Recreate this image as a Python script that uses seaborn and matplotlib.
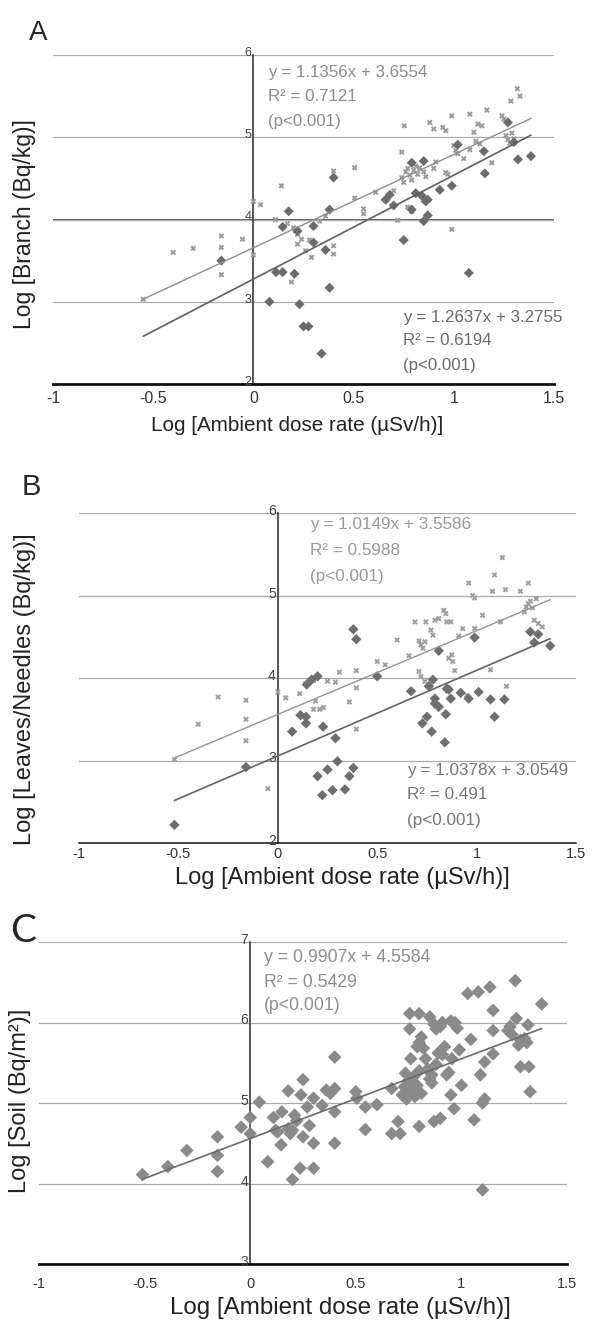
import numpy as np
import pandas as pd
import seaborn as sns
import matplotlib.pyplot as plt
from matplotlib.ticker import MultipleLocator
from matplotlib.transforms import offset_copy

# ---- valores (log10) ----
# Panel A: rama, serie de rombos (oscura) y serie de asteriscos (clara)
a_dia_x = [-0.16, 0.08, 0.113, 0.146, 0.146, 0.176, 0.205, 0.23, 0.25, 0.275, 0.22, 0.30, 0.30,
           0.36, 0.38, 0.38, 0.34, 0.40, 0.68, 0.70, 0.75, 0.79, 0.81, 0.85, 0.85, 0.87, 0.87,
           0.93, 0.99, 1.02, 1.075, 1.15, 1.155, 1.27, 1.30, 1.32, 1.385, 0.79, 0.84, 0.86, 0.66]
a_dia_y = [3.50, 3.00, 3.36, 3.36, 3.91, 4.10, 3.34, 2.97, 2.70, 2.70, 3.86, 3.92, 3.72,
           3.63, 4.12, 3.17, 2.37, 4.51, 4.30, 4.17, 3.75, 4.12, 4.32, 4.71, 3.98, 4.05, 4.24,
           4.36, 4.41, 4.91, 3.35, 4.83, 4.56, 5.18, 4.94, 4.73, 4.77, 4.69, 4.29, 4.22, 4.24]
a_ast_x = [-0.55, -0.40, -0.30, -0.16, -0.16, -0.16, -0.055, 0.00, 0.00, 0.036, 0.11, 0.14, 0.19,
           0.17, 0.20, 0.21, 0.22, 0.24, 0.22, 0.26, 0.29, 0.28, 0.33, 0.36, 0.40, 0.40, 0.40,
           0.505, 0.505, 0.55, 0.55, 0.61, 0.67, 0.70, 0.72, 0.74, 0.753, 0.74, 0.75, 0.76, 0.77,
           0.78, 0.79, 0.80, 0.81, 0.82, 0.83, 0.77, 0.79, 0.85, 0.86, 0.88, 0.90, 0.90, 0.91,
           0.945, 0.96, 0.96, 0.97, 0.99, 0.99, 1.00, 1.01, 1.02, 1.05, 1.08, 1.10, 1.11, 1.12,
           1.13, 1.14, 1.165, 1.19, 1.24, 1.25, 1.26, 1.27, 1.28, 1.29, 1.30, 1.285, 1.317, 1.33, 1.08]
a_ast_y = [3.03, 3.60, 3.65, 3.80, 3.66, 3.33, 3.76, 3.57, 4.22, 4.18, 4.00, 4.41, 3.24,
           3.95, 3.90, 3.86, 3.82, 3.76, 3.70, 3.62, 3.54, 3.75, 3.98, 4.04, 4.59, 3.68, 3.58,
           4.63, 4.26, 4.13, 4.07, 4.33, 4.28, 4.35, 3.99, 4.82, 5.14, 4.51, 4.45, 4.58, 4.62,
           4.54, 4.48, 4.60, 4.65, 4.55, 4.63, 4.15, 4.10, 4.58, 4.52, 5.18, 5.10, 4.62, 4.70,
           5.12, 5.08, 4.57, 4.55, 5.26, 3.88, 4.90, 4.84, 4.80, 4.74, 5.28, 5.06, 4.95, 5.16,
           4.92, 5.14, 5.33, 4.69, 5.26, 5.22, 5.02, 4.97, 4.93, 5.05, 4.98, 5.44, 5.59, 5.50, 4.85]

# Panel B: hojas / aciculas
b_dia_x = [-0.52, -0.16, 0.072, 0.114, 0.142, 0.142, 0.146, 0.17, 0.20, 0.20, 0.224, 0.25, 0.275,
           0.228, 0.29, 0.30, 0.338, 0.36, 0.38, 0.38, 0.395, 0.50, 0.67, 0.727, 0.75, 0.774, 0.78,
           0.79, 0.79, 0.81, 0.84, 0.845, 0.85, 0.87, 0.86, 0.81, 0.92, 0.96, 0.99, 1.01, 1.07,
           1.09, 1.14, 1.27, 1.31, 1.29, 1.37, 0.76]
b_dia_y = [2.22, 2.92, 3.35, 3.55, 3.53, 3.45, 3.92, 3.98, 4.02, 2.81, 2.58, 2.89, 2.64,
           3.41, 3.27, 2.99, 2.65, 2.81, 2.91, 4.59, 4.47, 4.02, 3.84, 3.45, 3.53, 3.35, 3.98,
           3.75, 3.69, 3.65, 3.22, 3.56, 3.87, 3.75, 3.86, 4.33, 3.82, 3.75, 4.49, 3.83, 3.74,
           3.53, 3.74, 4.56, 4.53, 4.43, 4.39, 3.90]
b_ast_x = [-0.52, -0.40, -0.30, -0.16, -0.16, -0.16, -0.05, 0.00, 0.04, 0.11, 0.14, 0.18, 0.19,
           0.21, 0.23, 0.18, 0.25, 0.29, 0.31, 0.29, 0.36, 0.395, 0.395, 0.395, 0.50, 0.54, 0.60,
           0.66, 0.69, 0.71, 0.72, 0.73, 0.74, 0.71, 0.72, 0.74, 0.745, 0.77, 0.78, 0.79, 0.81,
           0.835, 0.845, 0.85, 0.87, 0.86, 0.875, 0.88, 0.89, 0.91, 0.93, 0.95, 0.96, 0.98, 0.99,
           0.99, 1.03, 1.07, 1.08, 1.09, 1.12, 1.13, 1.145, 1.15, 1.22, 1.24, 1.25, 1.26, 1.27,
           1.28, 1.26, 1.29, 1.30, 1.31, 1.33]
b_ast_y = [3.01, 3.44, 3.77, 3.73, 3.50, 3.24, 2.66, 3.83, 3.76, 3.81, 3.93, 3.97, 3.72,
           3.62, 3.64, 3.62, 3.96, 3.95, 4.07, 3.27, 3.71, 4.09, 3.88, 3.38, 4.20, 4.16, 4.46,
           4.27, 4.68, 4.45, 4.40, 4.36, 4.44, 4.08, 4.02, 3.96, 4.68, 4.58, 4.52, 4.70, 4.72,
           4.82, 4.78, 4.68, 4.68, 4.24, 4.28, 4.20, 4.09, 4.51, 4.60, 3.79, 5.15, 5.00, 4.97,
           4.60, 4.76, 4.10, 5.05, 5.25, 4.68, 5.46, 5.07, 3.90, 5.05, 4.80, 4.86, 4.90, 4.93,
           4.85, 5.15, 4.70, 4.96, 4.66, 4.62]

# Panel C: suelo
c_x = [-0.51, -0.39, -0.30, -0.155, -0.155, -0.155, -0.043, 0.0, 0.0, 0.043, 0.083, 0.11, 0.12,
       0.13, 0.146, 0.15, 0.18, 0.18, 0.19, 0.20, 0.20, 0.21, 0.22, 0.236, 0.24, 0.25, 0.25,
       0.27, 0.28, 0.30, 0.30, 0.30, 0.34, 0.36, 0.38, 0.40, 0.40, 0.40, 0.40, 0.50, 0.505,
       0.545, 0.545, 0.60, 0.67, 0.67, 0.70, 0.71, 0.735, 0.72, 0.73, 0.74, 0.75, 0.76, 0.77,
       0.78, 0.79, 0.80, 0.81, 0.755, 0.755, 0.80, 0.79, 0.80, 0.81, 0.80, 0.76, 0.84, 0.85,
       0.86, 0.85, 0.87, 0.88, 0.90, 0.91, 0.87, 0.90, 0.91, 0.93, 0.94, 0.95, 0.97, 0.98,
       0.955, 0.965, 0.95, 0.99, 1.00, 1.045, 1.06, 1.03, 1.08, 1.09, 1.10, 1.11, 1.11, 1.10,
       1.135, 1.15, 1.15, 1.15, 1.22, 1.23, 1.24, 1.255, 1.26, 1.27, 1.28, 1.30, 1.31, 1.28,
       1.32, 1.325, 1.315, 1.38, 0.88, 0.89, 0.92, 0.86, 0.83, 0.82]
c_y = [4.11, 4.21, 4.41, 4.58, 4.35, 4.15, 4.70, 4.82, 4.62, 5.01, 4.27, 4.82, 4.66,
       4.64, 4.48, 4.89, 5.15, 4.68, 4.62, 4.66, 4.05, 4.85, 4.78, 4.19, 5.10, 5.29, 4.58,
       4.95, 4.72, 5.06, 4.50, 4.19, 4.97, 5.16, 5.12, 5.57, 5.18, 4.89, 4.50, 5.14, 5.06,
       4.95, 4.67, 4.98, 5.18, 4.62, 4.77, 4.62, 5.37, 5.10, 5.20, 5.05, 5.28, 5.15, 5.32,
       5.08, 5.22, 5.40, 5.12, 6.11, 5.92, 6.11, 5.70, 5.75, 5.82, 4.71, 5.55, 5.42, 5.30,
       5.35, 6.07, 5.98, 5.92, 5.95, 6.00, 4.77, 4.81, 5.60, 5.35, 5.38, 6.02, 6.00, 5.93,
       5.55, 4.93, 5.10, 5.66, 5.22, 5.79, 4.79, 6.36, 6.38, 5.35, 3.92, 5.51, 5.05, 5.00,
       6.44, 6.15, 5.90, 5.61, 5.90, 5.95, 5.85, 6.52, 6.05, 5.72, 5.78, 5.80, 5.75, 5.45,
       5.45, 5.14, 5.97, 6.23, 5.48, 5.62, 5.70, 5.25, 5.55, 5.68]

# ecuaciones de las rectas de tendencia (pendiente, ordenada)
a_fit_ast = (1.1356, 3.6554)
a_fit_dia = (1.2637, 3.2755)
b_fit_ast = (1.0149, 3.5586)
b_fit_dia = (1.0378, 3.0549)
c_fit = (0.9907, 4.5584)

a_txt_ast = ["y = 1.1356x + 3.6554", "R² = 0.7121", "(p<0.001)"]
a_txt_dia = ["y = 1.2637x + 3.2755", "R² = 0.6194", "(p<0.001)"]
b_txt_ast = ["y = 1.0149x + 3.5586", "R² = 0.5988", "(p<0.001)"]
b_txt_dia = ["y = 1.0378x + 3.0549", "R² = 0.491", "(p<0.001)"]
c_txt = ["y = 0.9907x + 4.5584", "R² = 0.5429", "(p<0.001)"]

x_ticks = [-1, -0.5, 0, 0.5, 1, 1.5]
x_tick_labels = ["-1", "-0.5", "0", "0.5", "1", "1.5"]
x_title = "Log [Ambient dose rate (µSv/h)]"

sns.set_theme(style="white")
plt.rcParams['font.family'] = ['Liberation Sans', 'DejaVu Sans']
plt.rcParams['axes.unicode_minus'] = False

W, H = 596, 1327
fig = plt.figure(figsize=(W / 100, H / 100), dpi=100)
fig.patch.set_facecolor("white")


def ejes_px(x0, y0, x1, y1):
    # crea un eje a partir de coordenadas en pixeles (origen arriba a la izquierda)
    return fig.add_axes([x0 / W, 1 - y1 / H, (x1 - x0) / W, (y1 - y0) / H])


def estilo(ax, ymin, ymax, spine_lw, xfs, yfs, pad):
    ax.set_xlim(-1, 1.5)
    ax.set_ylim(ymin, ymax)
    ax.set_xticks(x_ticks)
    ax.set_xticklabels(x_tick_labels)
    ax.set_yticks(range(ymin, ymax + 1))
    ax.set_yticklabels([])
    ax.yaxis.set_minor_locator(MultipleLocator(0.5))
    ax.spines['top'].set_visible(False)
    ax.spines['right'].set_visible(False)
    ax.spines['left'].set_position(('data', 0))
    ax.spines['left'].set_color('#3a3a3a')
    ax.spines['left'].set_linewidth(1.2)
    ax.spines['bottom'].set_color('#111111')
    ax.spines['bottom'].set_linewidth(spine_lw)
    ax.grid(axis='y', color='#ababab', lw=0.9)
    ax.set_axisbelow(True)
    ax.tick_params(axis='x', length=0, labelsize=xfs, labelcolor='#333333', pad=pad)
    ax.tick_params(axis='y', which='major', length=0)
    ax.tick_params(axis='y', which='minor', length=3, width=0.8, color='#555555', direction='out')
    ax.set_xlabel("")
    ax.set_ylabel("")
    # etiquetas del eje y pegadas al eje x=0, un poco por encima de la linea
    tr = offset_copy(ax.transData, fig=fig, x=-2, y=2, units='dots')
    for k in range(ymin, ymax + 1):
        ax.text(0, k, str(k), transform=tr, ha='right', va='center',
                fontsize=yfs, color='#444444')


def tendencia(ax, fit, xs_all, color, lw):
    xs = np.array([min(xs_all), max(xs_all)])
    ax.plot(xs, fit[0] * xs + fit[1], color=color, lw=lw, zorder=4)


def texto(ax, x, ys, lineas, color, fs):
    for y, t in zip(ys, lineas):
        ax.text(x, y, t, color=color, fontsize=fs, ha='left', va='center', zorder=5)


# ---------------- Panel A ----------------
ax = ejes_px(53, 55, 554, 384)
estilo(ax, 2, 6, 2.0, 11.5, 9, 5)
ax.axhline(4, color='#333333', lw=1.1, zorder=0.5)
sns.scatterplot(x=a_ast_x, y=a_ast_y, marker='X', s=17, color='#9a9a9a', edgecolor='none', ax=ax, zorder=3)
sns.scatterplot(x=a_dia_x, y=a_dia_y, marker='D', s=26, color='#6b6b6b', edgecolor='none', ax=ax, zorder=3)
todos = a_ast_x + a_dia_x
tendencia(ax, a_fit_ast, todos, '#8e8e8e', 1.0)
tendencia(ax, a_fit_dia, todos, '#606060', 1.2)
texto(ax, 0.075, [5.79, 5.49, 5.19], a_txt_ast, '#8c8c8c', 12.2)
texto(ax, 0.745, [2.81, 2.53, 2.23], a_txt_dia, '#6a6a6a', 12.2)

fig.text(29 / W, 1 - 33 / H, "A", fontsize=20, ha='left', va='center')
fig.text(25 / W, 1 - 224 / H, "Log [Branch (Bq/kg)]", fontsize=16.5, rotation=90, ha='center', va='center', color='#222222')
fig.text(297 / W, 1 - 425 / H, x_title, fontsize=14.9, ha='center', va='center', color='#222222')

# ---------------- Panel B ----------------
ax = ejes_px(79, 513, 576, 843)
estilo(ax, 2, 6, 1.1, 10.5, 10, 3)
sns.scatterplot(x=b_ast_x, y=b_ast_y, marker='X', s=17, color='#9e9e9e', edgecolor='none', ax=ax, zorder=3)
sns.scatterplot(x=b_dia_x, y=b_dia_y, marker='D', s=28, color='#6e6e6e', edgecolor='none', ax=ax, zorder=3)
todos = b_ast_x + b_dia_x
tendencia(ax, b_fit_ast, todos, '#949494', 1.0)
tendencia(ax, b_fit_dia, todos, '#646464', 1.2)
texto(ax, 0.16, [5.86, 5.54, 5.23], b_txt_ast, '#999999', 12.3)
texto(ax, 0.65, [2.88, 2.59, 2.27], b_txt_dia, '#777777', 12.3)

fig.text(22 / W, 1 - 487 / H, "B", fontsize=21, ha='left', va='center')
fig.text(25 / W, 1 - 689 / H, "Log [Leaves/Needles (Bq/kg)]", fontsize=17, rotation=90, ha='center', va='center', color='#222222')
fig.text(342 / W, 1 - 878 / H, x_title, fontsize=17, ha='center', va='center', color='#222222')

# ---------------- Panel C ----------------
ax = ejes_px(39, 942, 567, 1264)
estilo(ax, 3, 7, 2.0, 10.5, 10, 9)
sns.scatterplot(x=c_x, y=c_y, marker='D', s=48, color='#8a8a8a', edgecolor='none', ax=ax, zorder=3)
tendencia(ax, c_fit, c_x, '#6a6a6a', 1.2)
texto(ax, 0.065, [6.81, 6.50, 6.21], c_txt, '#8e8e8e', 12.7)

fig.text(10 / W, 1 - 931 / H, "C", fontsize=28, ha='left', va='center', family=['Lato', 'DejaVu Sans'])
fig.text(20 / W, 1 - 1101 / H, "Log [Soil (Bq/m²)]", fontsize=17, rotation=90, ha='center', va='center', color='#222222')
fig.text(340 / W, 1 - 1308 / H, x_title, fontsize=17.4, ha='center', va='center', color='#222222')

fig.savefig("out.png", dpi=100, facecolor="white")
